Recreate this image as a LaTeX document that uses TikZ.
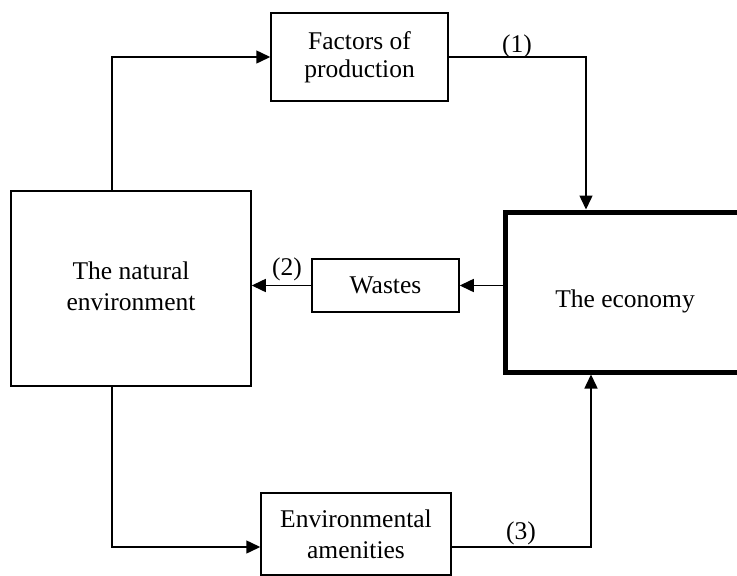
\documentclass[tikz,border=0pt]{standalone}
\usepackage{fontspec}
\setmainfont{Liberation Serif}
\usetikzlibrary{arrows.meta}
\begin{document}
\begin{tikzpicture}[x=1pt,y=-1pt,
  box/.style={draw, line width=1.5pt, rectangle, align=center, inner sep=0pt,
    font=\fontsize{25.5}{31}\selectfont},
  lbl/.style={inner sep=0pt, font=\fontsize{25.5}{31}\selectfont},
  conn/.style={line width=1.5pt},
  arr/.style={conn, -{Triangle[length=14pt,width=13pt]}}]
\clip (0,0) rectangle (737,576);
\fill[white] (0,0) rectangle (737,576);
\node[box, minimum width=177pt, minimum height=88pt, font=\fontsize{25.5}{28}\selectfont] (fac) at (359.5,57) {Factors of\\production};
\node[box, minimum width=240pt, minimum height=195pt] (nat) at (131,288.5) {\raisebox{-4pt}{\begin{tabular}{@{}c@{}}The natural\\[0pt]environment\end{tabular}}};
\node[box, minimum width=147pt, minimum height=53pt] (wst) at (385.5,285.5) {Wastes};
\node[box, minimum width=190pt, minimum height=82pt] (amen) at (356,534) {Environmental\\amenities};
\node[box, line width=5pt, minimum width=240pt, minimum height=160pt, text height=36pt, text depth=6pt] (eco) at (625,292) {The economy};
\coordinate (c1) at (112,0);
\coordinate (c2) at (586,0);
\coordinate (c3) at (0,547);
\coordinate (c4) at (591,0);
\draw[arr] (nat.north -| c1) |- (fac.west);
\draw[arr] (fac.east) -| (eco.north -| c2);
\draw[arr] (eco.west |- wst.east) -- (wst.east);
\draw[arr] (wst.west) -- (nat.east |- wst.west);
\draw[arr] (nat.south -| c1) |- (amen.west |- c3);
\draw[arr] (amen.east |- c3) -| (eco.south -| c4);
\node[lbl] (l1) at (517,46) {(1)};
\node[lbl] (l2) at (287,269) {(2)};
\node[lbl] (l3) at (521,533) {(3)};
\end{tikzpicture}
\end{document}
